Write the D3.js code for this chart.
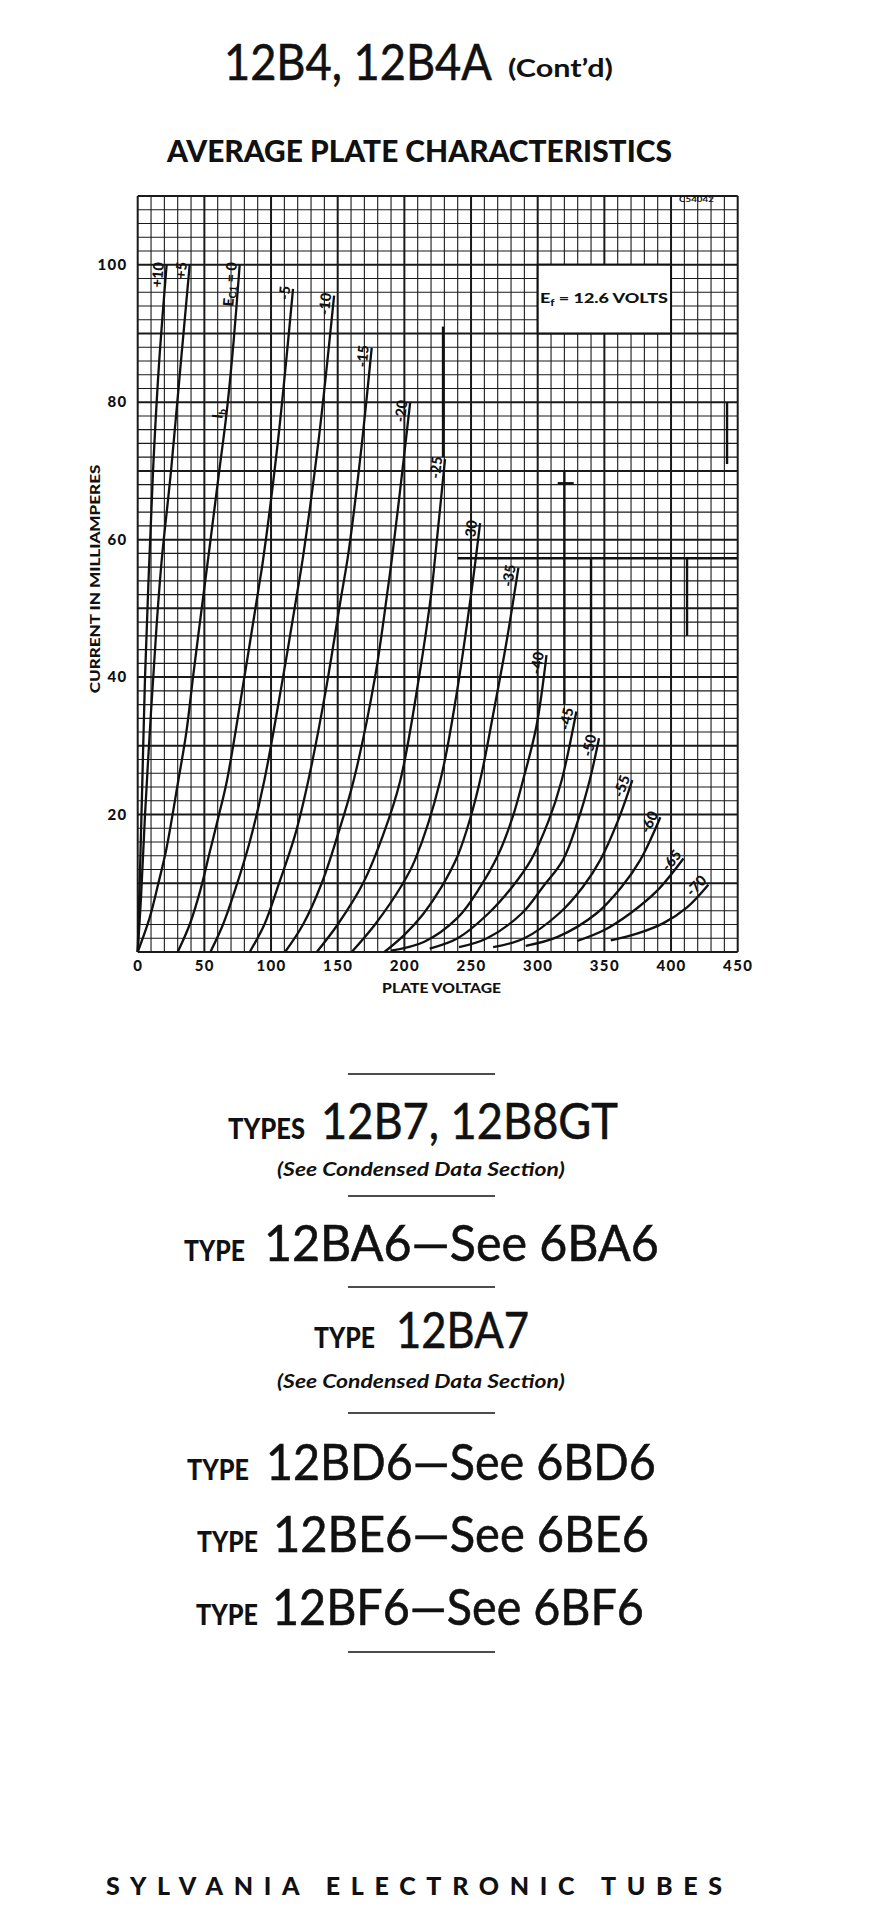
<!DOCTYPE html>
<html>
<head>
<meta charset="utf-8">
<script src="https://cdn.jsdelivr.net/npm/d3@7"></script>
<style>
  body { margin: 0; background: #fff; }
  svg { display: block; }
  text { fill: #111; font-family: Lato, "DejaVu Sans", sans-serif; }
</style>
</head>
<body>
<div id="page"></div>
<script>
// tick values
var xTicks = [0, 50, 100, 150, 200, 250, 300, 350, 400, 450];
var yTicks = [20, 40, 60, 80, 100];

// grid bias (Ec1) of each plate curve
var biasLabels = ["+10", "+5", "0", "-5", "-10", "-15", "-20", "-25", "-30",
  "-35", "-40", "-45", "-50", "-55", "-60", "-65", "-70"];

// [plate volts, plate mA]
var ecP10 = [[0, 0], [1.5, 10], [3.5, 25], [5.5, 40], [8.3, 55], [11.5, 70], [15.8, 85], [21.7, 100]];
var ecP5 = [[0, 0], [2.5, 8], [5.5, 20], [10, 35], [14, 47], [18, 57], [25, 70], [32, 85], [39, 100]];
var ec0 = [[0, 0], [9, 5], [15.5, 10], [21.5, 15], [30.5, 25], [36.5, 32], [41.5, 40], [48, 50], [54, 59], [60.5, 69], [67, 79], [72, 89], [76.5, 100]];
var ecM5 = [[30, 0], [39, 4], [47, 9], [54, 14.5], [61, 20], [67, 25], [80, 40], [90.5, 52.7], [94, 57], [105, 74], [116.5, 96.5]];
var ecM10 = [[54.5, 0], [64, 4], [73, 9], [84, 16], [95, 25], [109, 40], [120, 52.7], [124, 57.5], [136, 75], [147.3, 95.5]];
var ecM15 = [[84, 0], [95, 4], [106, 10], [118, 17], [128, 25], [141, 38], [152, 51], [158, 58], [167, 72], [175.5, 87.9]];
var ecM20 = [[110.5, 0], [124, 4], [138, 10], [150, 17], [162, 25], [178, 40], [187.5, 52.7], [190.5, 57], [197, 67.5], [204.3, 79.9]];
var ecM25 = [[134.3, 0], [150, 4], [169, 10], [184, 17], [197, 25], [211, 40], [220.5, 52.7], [223, 57.3], [230.5, 71.7]];
var ecM30 = [[160.5, 0], [178, 4], [199, 10], [208, 13.4], [227, 25], [239.3, 37.7], [250.5, 52.7], [256.8, 62.4]];
var ecM35 = [[185, 0], [200, 2.5], [214, 5.5], [228, 9.5], [240, 14], [249.5, 19.5], [258, 26], [267, 35], [276.5, 45], [285.5, 55.9]];
var ecM40 = [[190, 0.2], [215, 1.5], [240, 5], [257, 9.5], [270, 14], [281, 19.5], [289, 25], [299, 32.8], [306.6, 43.2]];
var ecM45 = [[219, 0.5], [240, 2], [263, 5.6], [281, 9.5], [295, 13.4], [308, 19], [318, 25], [329, 35]];
var ecM50 = [[241, 0.7], [262, 2], [288, 5.6], [304, 9.5], [319, 13.4], [330, 19], [339, 25], [346, 31.1]];
var ecM55 = [[266.6, 0.7], [290, 2], [316, 5.6], [334, 9.5], [347, 13.4], [360, 19], [371, 25]];
var ecM60 = [[291, 0.9], [315, 2.2], [344, 5.6], [363, 9.5], [377, 13.4], [392, 19.6]];
var ecM65 = [[329.6, 1.6], [350, 3.2], [369.3, 5.6], [390, 9], [409.3, 13.6]];
var ecM70 = [[354.8, 1.7], [375, 2.7], [394.3, 4.2], [412, 6.5], [428, 9.8]];

var curves = [ecP10, ecP5, ec0, ecM5, ecM10, ecM15, ecM20, ecM25, ecM30,
  ecM35, ecM40, ecM45, ecM50, ecM55, ecM60, ecM65, ecM70];

// heavier stray rulings printed on the sheet
var paperMarks = [
  [[240, 57.3], [450, 57.3]], [[320, 36], [320, 70]], [[340, 32], [340, 57.3]],
  [[412, 46], [412, 57.3]], [[229, 72], [229, 91]], [[442, 71], [442, 80]],
  [[315, 68.2], [327, 68.2]]
];

// text lines under the chart: [prefix, name, baseline, prefix x0, x1, name x0, x1]
var typeLines = [
  ["TYPES", "12B7, 12B8GT", 1139, 228, 305, 321, 618],
  ["TYPE", "12BA6\u2014See 6BA6", 1261, 184, 245, 264, 659],
  ["TYPE", "12BA7", 1348, 314, 375, 396, 529],
  ["TYPE", "12BD6\u2014See 6BD6", 1480, 187, 249, 266, 656],
  ["TYPE", "12BE6\u2014See 6BE6", 1552, 197, 258, 273, 649],
  ["TYPE", "12BF6\u2014See 6BF6", 1625, 196, 258, 272, 644]
];
var noteLines = [1176, 1388];
var ruleLines = [1074, 1196, 1287, 1413, 1652];

var svgWidth = 878;
var svgHeight = 1913;

var svg = d3.select("#page")
  .append("svg")
  .attr("width", svgWidth)
  .attr("height", svgHeight);

svg.append("rect").attr("width", svgWidth).attr("height", svgHeight).attr("fill", "#fff");

// squeeze a text horizontally so it spans the given width
function fitText(sel, x, y, width, extra) {
  var w = sel.node().getComputedTextLength();
  sel.attr("transform", `translate(${x}, ${y}) ${extra || ""} scale(${width / w}, 1)`);
  return sel;
}

// headings
fitText(svg.append("text")
  .attr("font-size", 50)
  .attr("stroke", "#111").attr("stroke-width", 0.6)
  .text("12B4, 12B4A"), 224, 80, 268);

fitText(svg.append("text")
  .attr("font-size", 25).attr("font-weight", 700)
  .text("(Cont\u2019d)"), 508, 77, 105);

fitText(svg.append("text")
  .attr("font-size", 31).attr("font-weight", 900)
  .text("AVERAGE PLATE CHARACTERISTICS"), 167, 162, 505);

// scales
var xScale = d3.scaleLinear().domain([0, 450]).range([137.7, 737.7]);
var yScale = d3.scaleLinear().domain([0, 110]).range([952, 196]);

var chart = svg.append("g");

// graph paper
var vLines = d3.range(0, 451, 10);
var hLines = d3.range(0, 111, 2);

chart.append("g").selectAll("line")
  .data(vLines)
  .enter()
  .append("line")
  .attr("x1", d => xScale(d)).attr("x2", d => xScale(d))
  .attr("y1", yScale(0)).attr("y2", yScale(110))
  .attr("stroke", "#1a1a1a")
  .attr("stroke-width", d => d % 50 === 0 ? 2 : 1.1);

chart.append("g").selectAll("line")
  .data(hLines)
  .enter()
  .append("line")
  .attr("y1", d => yScale(d)).attr("y2", d => yScale(d))
  .attr("x1", xScale(0)).attr("x2", xScale(450))
  .attr("stroke", "#1a1a1a")
  .attr("stroke-width", d => d % 10 === 0 ? 2 : 1.1);

chart.append("g").selectAll("line")
  .data(paperMarks)
  .enter()
  .append("line")
  .attr("x1", d => xScale(d[0][0])).attr("y1", d => yScale(d[0][1]))
  .attr("x2", d => xScale(d[1][0])).attr("y2", d => yScale(d[1][1]))
  .attr("stroke", "#111")
  .attr("stroke-width", 2.4);

fitText(chart.append("text")
  .attr("font-size", 7.5).attr("font-weight", 700)
  .text("C54042"), 679, 202, 35);

// heater box
chart.append("rect")
  .attr("x", xScale(300)).attr("y", yScale(100))
  .attr("width", xScale(400) - xScale(300))
  .attr("height", yScale(90) - yScale(100))
  .attr("fill", "#fff")
  .attr("stroke", "#111")
  .attr("stroke-width", 2);

var ef = chart.append("text")
  .attr("font-size", 14).attr("font-weight", 900);
ef.append("tspan").text("E");
ef.append("tspan").attr("font-size", 9).attr("dy", 3).text("f");
ef.append("tspan").attr("dy", -3).text("  =  12.6  VOLTS");
fitText(ef, 540, 303, 128);

// axes
var bottomAxis = d3.axisBottom(xScale).tickValues(xTicks).tickSize(0).tickPadding(8);
var leftAxis = d3.axisLeft(yScale).tickValues(yTicks).tickSize(0).tickPadding(10);

var xAxisG = chart.append("g")
  .attr("transform", `translate(0, ${yScale(0)})`)
  .call(bottomAxis);
var yAxisG = chart.append("g")
  .attr("transform", `translate(${xScale(0)}, 0)`)
  .call(leftAxis);

[xAxisG, yAxisG].forEach(function (g) {
  g.select(".domain").remove();
  g.selectAll("text")
    .attr("fill", "#111")
    .attr("font-family", "Lato, sans-serif")
    .attr("font-size", 15)
    .attr("font-weight", 900)
    .attr("letter-spacing", 1.4);
});

fitText(chart.append("text")
  .attr("text-anchor", "middle")
  .attr("font-size", 13).attr("font-weight", 900)
  .text("CURRENT IN MILLIAMPERES"), 100, 579, 229, "rotate(-90)");

fitText(chart.append("text")
  .attr("text-anchor", "middle")
  .attr("font-size", 14).attr("font-weight", 900)
  .text("PLATE VOLTAGE"), 441.6, 993, 119);

// plate curves
var line = d3.line()
  .x(d => xScale(d[0]))
  .y(d => yScale(d[1]))
  .curve(d3.curveCatmullRom.alpha(0.5));

chart.append("g").selectAll("path")
  .data(curves)
  .enter()
  .append("path")
  .attr("d", line)
  .attr("fill", "none")
  .attr("stroke", "#111")
  .attr("stroke-width", 2.3)
  .attr("stroke-linejoin", "round");

// curve labels, set along the end of each curve
curves.forEach(function (pts, i) {
  var a = pts[pts.length - 2], b = pts[pts.length - 1];
  var x0 = xScale(a[0]), y0 = yScale(a[1]), x1 = xScale(b[0]), y1 = yScale(b[1]);
  var ang = Math.atan2(y1 - y0, x1 - x0) * 180 / Math.PI;
  var t = chart.append("text")
    .attr("transform", `translate(${x1}, ${y1}) rotate(${ang})`)
    .attr("x", 2).attr("y", -3)
    .attr("text-anchor", "end")
    .attr("font-size", 14.5).attr("font-weight", 900);
  if (biasLabels[i] === "0") {
    t.append("tspan").text("E");
    t.append("tspan").attr("font-size", 10).attr("dy", 2).text("C1");
    t.append("tspan").attr("dy", -2).text(" = 0");
  } else {
    t.text(biasLabels[i]);
  }
});

// Ib tag on the zero-bias curve
chart.append("text")
  .attr("transform", `translate(${xScale(66.5) - 3}, ${yScale(79)}) rotate(-84)`)
  .attr("text-anchor", "end")
  .attr("font-size", 14.5).attr("font-weight", 900)
  .call(function (t) {
    t.append("tspan").text("I");
    t.append("tspan").attr("font-size", 10).attr("dy", 3).text("b");
  });

// type list under the chart
svg.append("g").selectAll("line")
  .data(ruleLines)
  .enter()
  .append("line")
  .attr("x1", 348).attr("x2", 495)
  .attr("y1", d => d).attr("y2", d => d)
  .attr("stroke", "#111")
  .attr("stroke-width", 1.6);

typeLines.forEach(function (r) {
  fitText(svg.append("text")
    .attr("font-size", 29).attr("font-weight", 900)
    .text(r[0]), r[3], r[2], r[4] - r[3]);
  fitText(svg.append("text")
    .attr("font-size", 50)
    .attr("stroke", "#111").attr("stroke-width", 0.6)
    .text(r[1]), r[5], r[2], r[6] - r[5]);
});

noteLines.forEach(function (y) {
  fitText(svg.append("text")
    .attr("font-size", 19).attr("font-weight", 700).attr("font-style", "italic")
    .text("(See Condensed Data Section)"), 277, y, 288);
});

svg.append("text")
  .attr("x", 106).attr("y", 1895)
  .attr("font-size", 25).attr("font-weight", 900)
  .attr("textLength", 616).attr("lengthAdjust", "spacing")
  .text("SYLVANIA  ELECTRONIC  TUBES");
</script>
</body>
</html>
